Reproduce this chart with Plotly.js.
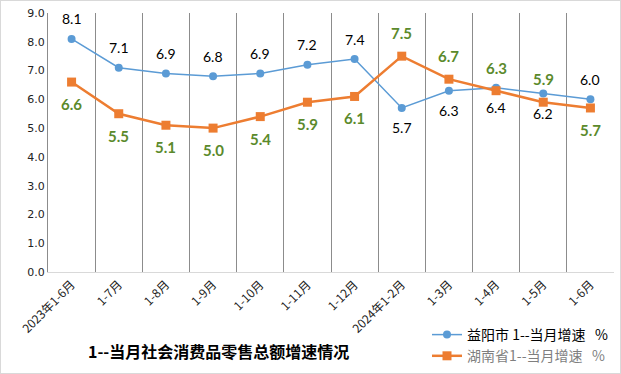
<!DOCTYPE html>
<html>
<head>
<meta charset="utf-8">
<script src="https://cdn.plot.ly/plotly-3.0.1.min.js"></script>
<style>
html,body{margin:0;padding:0;background:#fff;}
#wrap{width:621px;height:374px;box-sizing:border-box;border:1px solid #d9d9d9;}
#chart{width:619px;height:372px;}
</style>
</head>
<body>
<div id="wrap"><div id="chart"></div></div>
<script>
const categories = ["2023年1-6月","1-7月","1-8月","1-9月","1-10月","1-11月","1-12月","2024年1-2月","1-3月","1-4月","1-5月","1-6月"];
const yiyang = [8.1,7.1,6.9,6.8,6.9,7.2,7.4,5.7,6.3,6.4,6.2,6.0];
const hunan  = [6.6,5.5,5.1,5.0,5.4,5.9,6.1,7.5,6.7,6.3,5.9,5.7];
const yiyangLabelSide = ["top","top","top","top","top","top","top","bottom","bottom","bottom","bottom","top"];
const hunanLabelSide  = ["bottom","bottom","bottom","bottom","bottom","bottom","bottom","top","top","top","top","bottom"];
const seriesNames = ["益阳市 1--当月增速&nbsp;&nbsp;&nbsp;%","湖南省1--当月增速&nbsp;&nbsp;&nbsp;%"];
const chartTitle = "1--当月社会消费品零售总额增速情况";

const cjk = '"Microsoft YaHei","Noto Sans CJK SC",sans-serif';
const num = 'Lato,"Noto Sans CJK SC",sans-serif';

const traces = [
  {x: categories, y: yiyang, type: 'scatter', mode: 'lines+markers', name: seriesNames[0],
   line: {color: '#5b9bd5', width: 1.5}, marker: {symbol: 'circle', size: 8, color: '#5b9bd5'}},
  {x: categories, y: hunan, type: 'scatter', mode: 'lines+markers',
   name: '<span style="color:#7f7f7f">' + seriesNames[1] + '</span>',
   line: {color: '#ed7d31', width: 2.5}, marker: {symbol: 'square', size: 9, color: '#ed7d31'}}
];

const annotations = [];
yiyang.forEach((v, i) => annotations.push({
  x: categories[i], y: v, xref: 'x', yref: 'y', text: v.toFixed(1), showarrow: false,
  yshift: yiyangLabelSide[i] === 'top' ? 20 : -20,
  font: {family: num, size: 14, color: '#000'}
}));
hunan.forEach((v, i) => annotations.push({
  x: categories[i], y: v, xref: 'x', yref: 'y', text: '<b>' + v.toFixed(1) + '</b>', showarrow: false,
  yshift: hunanLabelSide[i] === 'top' ? 23 : -22,
  font: {family: num, size: 15, color: '#5b8a2c'}
}));
annotations.push({
  xref: 'paper', yref: 'paper', x: (217 - 47) / 566, y: (271 - 350) / 259, xanchor: 'center', yanchor: 'middle',
  text: '<b>' + chartTitle + '</b>', showarrow: false, font: {family: cjk, size: 16, color: '#000'}
});

const layout = {
  width: 619, height: 372,
  margin: {l: 47, r: 6, t: 12, b: 101, pad: 0, autoexpand: false},
  paper_bgcolor: '#fff', plot_bgcolor: '#fff',
  showlegend: true,
  legend: {x: (426 - 47) / 566, y: (271 - 318) / 259, xanchor: 'left', yanchor: 'top',
           font: {family: cjk, size: 14, color: '#000'}, bgcolor: 'rgba(0,0,0,0)', tracegroupgap: 0},
  xaxis: {type: 'category', range: [-0.5, 11.5], tickson: 'boundaries', showgrid: true,
          gridcolor: '#8c8c8c', gridwidth: 1, showline: true, linecolor: '#d9d9d9', linewidth: 1,
          ticks: '', tickangle: -45, tickfont: {family: cjk, size: 12, color: '#222'}, fixedrange: true},
  yaxis: {range: [0, 9], dtick: 1, tickformat: '.1f', showgrid: false, zeroline: false,
          showline: true, linecolor: '#8c8c8c', linewidth: 1, ticks: '',
          tickfont: {family: 'Tahoma,"DejaVu Sans",sans-serif', size: 11, color: '#222'}, fixedrange: true},
  annotations: annotations
};

Plotly.newPlot('chart', traces, layout, {displayModeBar: false, staticPlot: true});
</script>
</body>
</html>
